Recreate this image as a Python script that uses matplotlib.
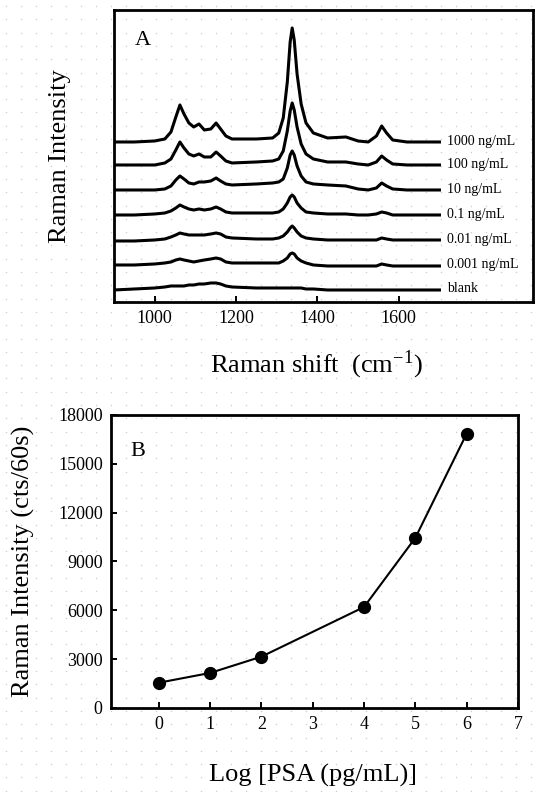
import numpy as np
import matplotlib
matplotlib.use("Agg")
import matplotlib.pyplot as plt

plt.rcParams['font.family'] = ['Liberation Serif', 'DejaVu Serif']
plt.rcParams['mathtext.fontset'] = 'stix'

# panel A: spectra, heights above each baseline
shift = [900, 950, 1000, 1025, 1040, 1052, 1062, 1072, 1084, 1096, 1109, 1122, 1138,
         1151, 1162, 1175, 1190, 1250, 1290, 1305, 1316, 1326, 1333, 1338, 1343,
         1350, 1360, 1372, 1390, 1425, 1470, 1500, 1525, 1545, 1558, 1570, 1585,
         1620, 1700]
i_1000 = [0, 0, 1, 3, 10, 25, 37, 28, 19, 15, 18, 12, 13, 19, 13, 6, 3, 3, 4, 9,
          24, 60, 100, 114, 102, 68, 38, 19, 9, 4, 5, 1, 0, 6, 16, 9, 2, 0, 0]
i_100 = [0, 0, 0, 2, 6, 15, 23, 17, 11, 9, 11, 8, 8, 13, 9, 4, 2, 3, 4, 6,
         14, 34, 54, 62, 55, 38, 21, 11, 6, 3, 3, 1, 0, 3, 9, 5, 1, 0, 0]
i_10 = [0, 0, 0, 1, 4, 10, 14, 11, 7, 6, 8, 8, 9, 12, 9, 6, 5, 6, 7, 8,
        11, 22, 35, 39, 35, 24, 14, 8, 6, 5, 4, 1, 0, 2, 7, 4, 1, 0, 0]
i_0p1 = [0, 0, 1, 2, 4, 7, 10, 8, 6, 5, 6, 5, 6, 8, 6, 3, 2, 2, 2, 3,
         6, 12, 18, 20, 18, 12, 7, 3, 2, 1, 1, 0, 0, 1, 3, 2, 0, 0, 0]
i_0p01 = [-1, -1, 0, 1, 3, 5, 7, 6, 5, 5, 5, 5, 6, 7, 6, 3, 2, 1, 1, 2,
          4, 8, 12, 14, 12, 8, 4, 2, 1, 0, 0, 0, 0, 0, 2, 1, 0, 0, 0]
i_0p001 = [0, 0, 1, 2, 3, 5, 6, 5, 4, 3, 4, 5, 6, 7, 6, 3, 2, 2, 2, 2,
           4, 7, 11, 12, 11, 7, 4, 2, 0, -1, -1, -1, -1, -1, 1, 0, -1, -1, -1]
i_blank = [-1, 0, 1, 2, 3, 3, 3, 3, 4, 4, 5, 5, 6, 6, 5, 3, 2, 1, 1, 1,
           1, 1, 1, 1, 1, 1, 1, 0, 0, -1, -1, -1, -1, -1, -1, -1, -1, -1, -1]
spec_labels = ['1000 ng/mL', '100 ng/mL', '10 ng/mL', '0.1 ng/mL',
               '0.01 ng/mL', '0.001 ng/mL', 'blank']
offsets = [160, 137, 112, 87, 62, 37, 13]

# panel B
log_psa = [0, 1, 2, 4, 5, 6]
intensity = [1550, 2150, 3150, 6200, 10450, 16850]

fig = plt.figure(figsize=(5.37, 7.92), dpi=100)

# faint dotted paper background
bg = fig.add_axes([0, 0, 1, 1], zorder=-5)
bg.set_xlim(0, 537)
bg.set_ylim(792, 0)
bg.axis('off')
gx, gy = np.meshgrid(np.arange(6, 537, 15), np.arange(6, 792, 13.3))
bg.scatter(gx.ravel(), gy.ravel(), s=1.2, color='#cfcfcf', linewidths=0)

axA = fig.add_axes([0.2123, 0.6187, 0.7803, 0.3687])
axA.patch.set_alpha(0)
spectra = [i_1000, i_100, i_10, i_0p1, i_0p01, i_0p001, i_blank]
for s, lab, off in zip(spectra, spec_labels, offsets):
    axA.plot(shift, np.array(s) + off, color='black', lw=2.2, solid_joinstyle='round')
    axA.text(1718, off, lab, fontsize=10, va='center', ha='left')
axA.set_xlim(900, 1930)
axA.set_ylim(0, 292)
axA.set_xticks([1000, 1200, 1400, 1600])
axA.set_yticks([])
axA.tick_params(axis='x', direction='in', length=4, width=1.4, labelsize=13, pad=6)
for sp in axA.spines.values():
    sp.set_linewidth(2)
axA.text(0.07, 0.894, 'A', transform=axA.transAxes, fontsize=16, ha='center', va='center')
fig.text(60 / 537, 1 - 156 / 792, 'Raman Intensity', rotation=90, fontsize=19,
         ha='center', va='center')
fig.text(317 / 537, 1 - 365 / 792, r'Raman shift  (cm$^{\mathregular{-1}}$)', fontsize=19,
         ha='center', va='center')

axB = fig.add_axes([0.2067, 0.1061, 0.7579, 0.370])
axB.patch.set_alpha(0)
axB.plot(log_psa, intensity, color='black', lw=1.5, marker='o', markersize=8.5)
axB.set_xlim(-0.93, 7)
axB.set_ylim(0, 18000)
axB.set_xticks(range(0, 8))
axB.set_yticks(range(0, 18001, 3000))
axB.tick_params(direction='in', length=4, width=1.4, labelsize=13, pad=6)
for sp in axB.spines.values():
    sp.set_linewidth(2)
axB.text(0.066, 0.874, 'B', transform=axB.transAxes, fontsize=16, ha='center', va='center')
fig.text(23 / 537, 1 - 561 / 792, 'Raman Intensity (cts/60s)', rotation=90, fontsize=19,
         ha='center', va='center')
fig.text(313 / 537, 1 - 775 / 792, 'Log [PSA (pg/mL)]', fontsize=19,
         ha='center', va='center')

fig.savefig('out.png', dpi=100)
